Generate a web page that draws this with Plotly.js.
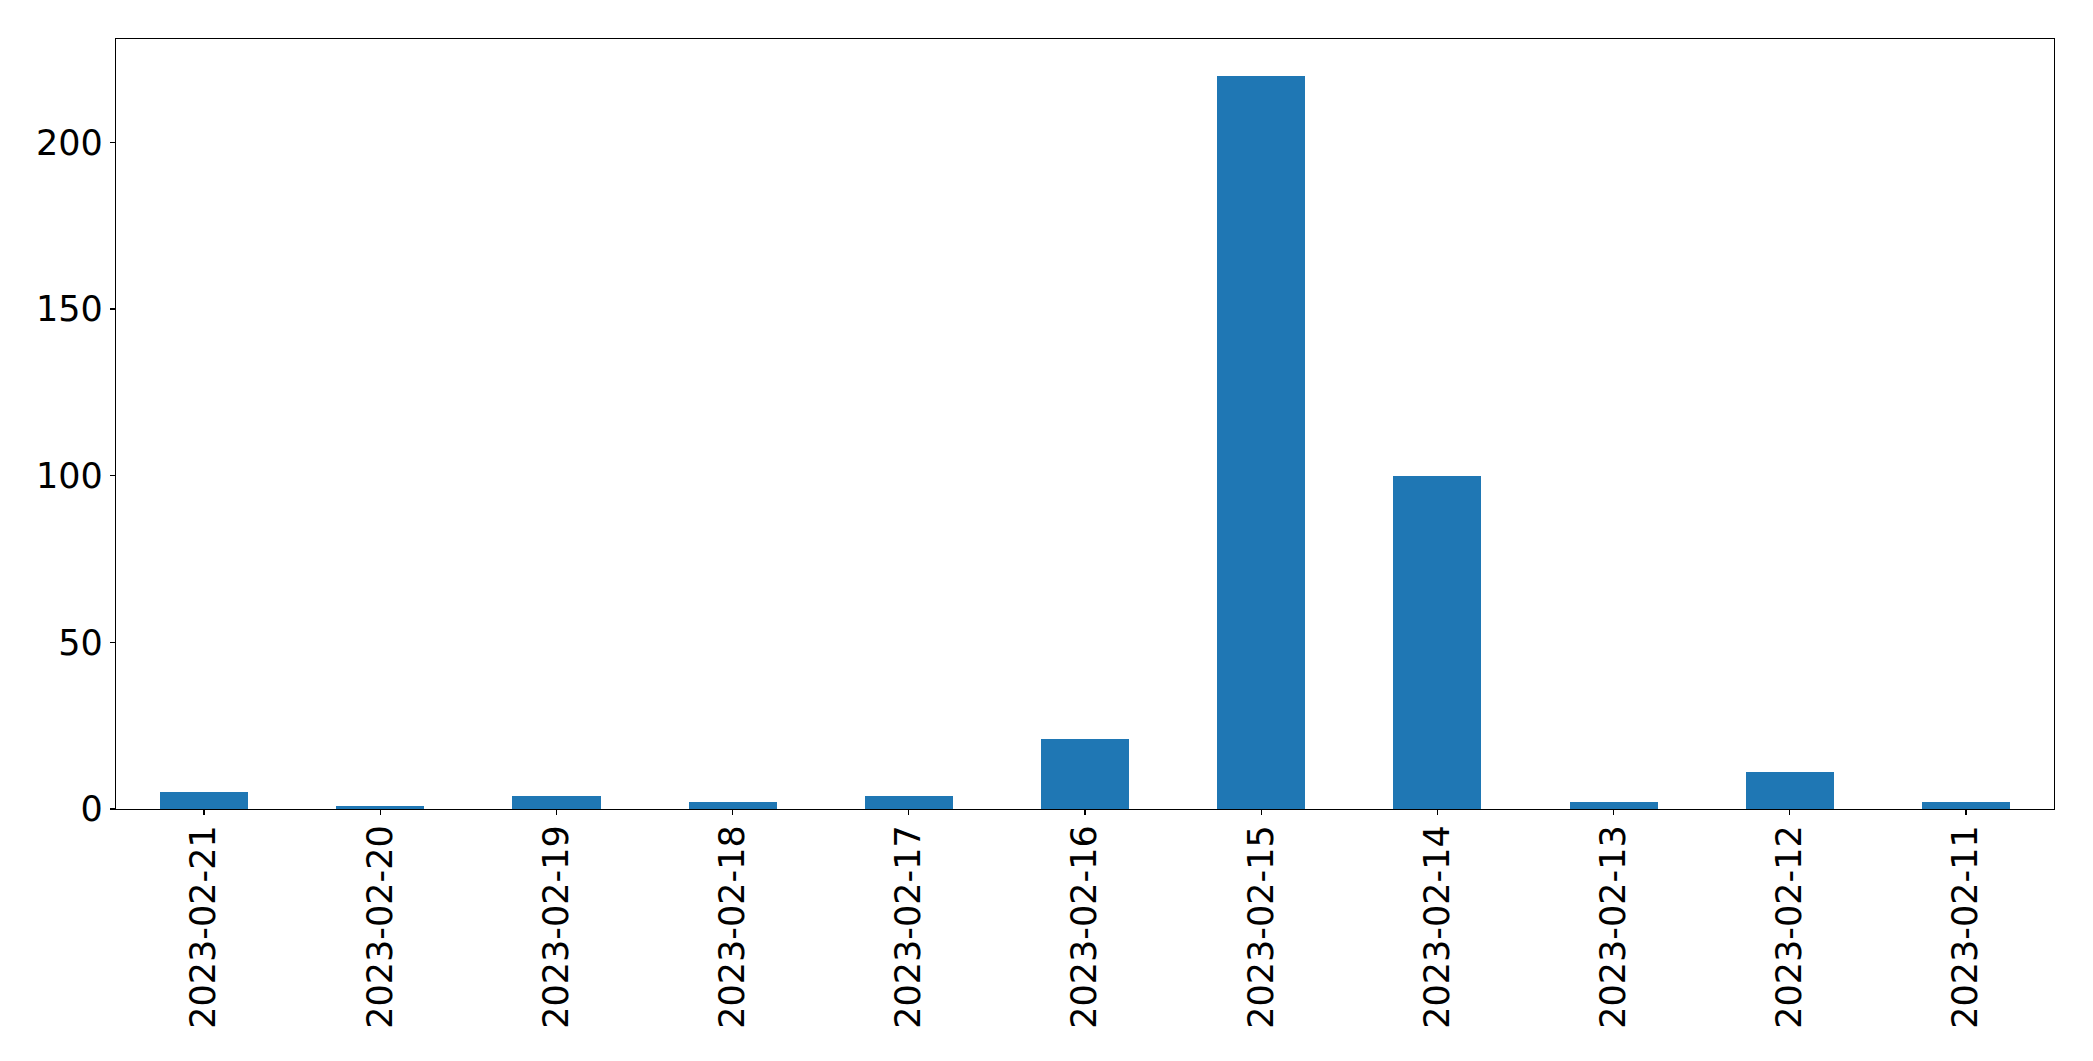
<!DOCTYPE html>
<html>
<head>
<meta charset="utf-8">
<script src="https://cdn.plot.ly/plotly-3.0.1.min.js"></script>
<style>html,body{margin:0;padding:0;background:#fff;}#chart{width:2093px;height:1061px;}</style>
</head>
<body>
<div id="chart"></div>
<script>
const dates = ["2023-02-21","2023-02-20","2023-02-19","2023-02-18","2023-02-17","2023-02-16","2023-02-15","2023-02-14","2023-02-13","2023-02-12","2023-02-11"];
const counts = [5, 1, 4, 2, 4, 21, 220, 100, 2, 11, 2];
const yTicks = [0, 50, 100, 150, 200];

const trace = {
  type: 'bar',
  x: dates,
  y: counts,
  width: 0.5,
  marker: {color: '#1f77b4', line: {width: 0}},
  hoverinfo: 'x+y'
};

const font = {family: 'DejaVu Sans', size: 35, color: '#000'};

const layout = {
  width: 2093,
  height: 1061,
  margin: {l: 116, r: 39, t: 39, b: 252, pad: 0},
  paper_bgcolor: '#fff',
  plot_bgcolor: '#fff',
  showlegend: false,
  bargap: 0,
  xaxis: {
    type: 'category',
    range: [-0.5, dates.length - 0.5],
    showline: true, mirror: true, linecolor: '#000', linewidth: 1.3,
    showgrid: false, zeroline: false,
    ticks: 'outside', ticklen: 5, tickwidth: 1.3, tickcolor: '#000',
    tickangle: -90,
    ticklabelstandoff: -4,
    tickfont: font,
    fixedrange: true
  },
  yaxis: {
    range: [0, 231],
    tickvals: yTicks,
    ticktext: yTicks.map(String),
    showline: true, mirror: true, linecolor: '#000', linewidth: 1.3,
    showgrid: false, zeroline: false,
    ticks: 'outside', ticklen: 5, tickwidth: 1.3, tickcolor: '#000',
    ticklabelstandoff: 0,
    tickfont: font,
    fixedrange: true
  }
};

Plotly.newPlot('chart', [trace], layout, {displayModeBar: false, staticPlot: true});
</script>
</body>
</html>
